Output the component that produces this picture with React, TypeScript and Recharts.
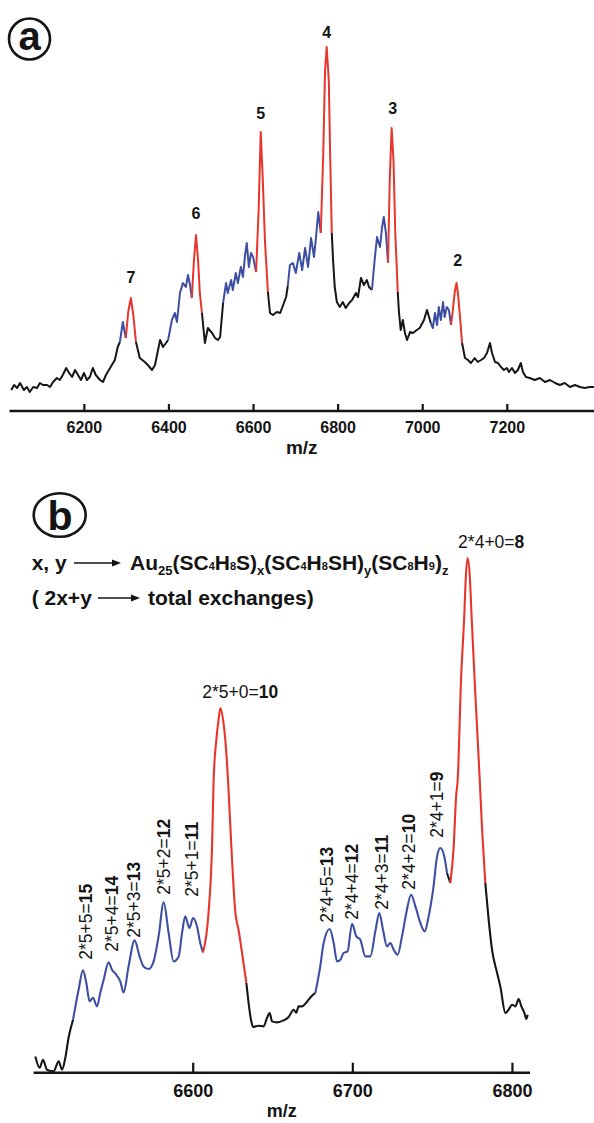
import React from 'react';
import { LineChart, Line, XAxis, YAxis, ReferenceDot, Label } from 'recharts';

const FONT = '"Liberation Sans", Arial, Helvetica, sans-serif';
const INK = '#141414';
const COLORS: Record<string, string> = { k: '#161616', b: '#3d4fa3', r: '#e8352b' };

// ---------- Panel (a): full spectrum ----------
const mzA = [
  6027, 6034, 6041, 6048, 6057, 6064, 6071, 6079, 6088, 6095, 6102, 6112, 6119, 6126, 6135, 6142, 6149, 6157, 6164, 6171,
  6178, 6185, 6192, 6199, 6206, 6213, 6220, 6227, 6237, 6244, 6251, 6258, 6265, 6272, 6279, 6284, 6291, 6298, 6304, 6310,
  6316, 6322, 6331, 6343, 6350, 6360, 6367, 6379, 6386, 6393, 6398, 6407, 6414, 6419, 6426, 6433, 6440, 6445, 6450, 6454,
  6459, 6464, 6469, 6473, 6478, 6485, 6492, 6502, 6509, 6516, 6521, 6528, 6535, 6539, 6547, 6551, 6558, 6563, 6570, 6575,
  6580, 6584, 6589, 6594, 6599, 6606, 6612, 6617, 6622, 6627, 6634, 6639, 6646, 6655, 6663, 6670, 6677, 6681, 6686, 6693,
  6700, 6708, 6715, 6722, 6729, 6736, 6743, 6748, 6753, 6759, 6765, 6769, 6773, 6778, 6781, 6785, 6788, 6792, 6797, 6804,
  6811, 6818, 6826, 6833, 6842, 6847, 6854, 6861, 6868, 6873, 6880, 6887, 6892, 6899, 6904, 6908, 6913, 6918, 6922, 6926.5,
  6931, 6935, 6941, 6944, 6948, 6953, 6958, 6963, 6970, 6977, 6986, 6993, 7003, 7010, 7015, 7019, 7024, 7029, 7034, 7038,
  7043, 7048, 7052, 7057, 7062, 7067, 7071, 7076, 7080, 7084, 7089, 7093, 7100, 7107, 7114, 7123, 7130, 7138, 7145, 7152,
  7159, 7164, 7171, 7178, 7185, 7192, 7199, 7204, 7211, 7218, 7225, 7232, 7237, 7244, 7253, 7265, 7277, 7289, 7301, 7313,
  7324, 7336, 7348, 7360, 7372, 7383, 7395, 7405,
];
const intA = [
  21, 26, 23, 28, 21, 24, 19, 24, 23, 28, 26, 26, 24, 29, 33, 31, 36, 43, 38, 34,
  41, 36, 31, 38, 31, 34, 43, 36, 31, 29, 36, 41, 46, 51, 64, 69, 89, 73, 100, 113,
  95, 69, 53, 49, 46, 41, 46, 71, 64, 68, 71, 91, 98, 89, 118, 128, 124, 136, 126, 113,
  150, 176, 150, 118, 98, 68, 83, 78, 73, 71, 74, 108, 128, 118, 131, 121, 138, 128, 144, 134,
  156, 168, 144, 158, 154, 139, 200, 279, 230, 170, 119, 98, 96, 99, 98, 106, 114, 125, 146, 148,
  138, 158, 141, 163, 144, 173, 154, 175, 199, 178, 260, 340, 364, 330, 260, 178, 151, 124, 109, 104,
  109, 103, 108, 111, 118, 114, 133, 126, 131, 124, 121, 154, 174, 164, 184, 194, 178, 148, 230, 283,
  250, 180, 119, 98, 81, 91, 78, 71, 79, 78, 81, 83, 91, 101, 94, 88, 83, 98, 86, 104,
  91, 109, 94, 104, 101, 86, 100, 120, 128, 115, 90, 68, 53, 51, 48, 53, 49, 51, 53, 58,
  68, 58, 49, 48, 44, 41, 43, 39, 43, 38, 41, 48, 39, 34, 33, 31, 33, 29, 31, 28,
  26, 28, 24, 26, 24, 23, 24, 24,
];
const bandStartA = [6027, 6284, 6298, 6322, 6398, 6454, 6478, 6528, 6606, 6634, 6681, 6759, 6785, 6880, 6918, 6941, 7019, 7067, 7093];
const bandColorA = ['k', 'b', 'r', 'k', 'b', 'r', 'k', 'b', 'r', 'k', 'b', 'r', 'k', 'b', 'r', 'k', 'b', 'r', 'k'];
const ticksA = [6200, 6400, 6600, 6800, 7000, 7200];
const peakTextA = ['7', '6', '5', '4', '3', '2'];
const peakMzA = [6310, 6464, 6617, 6773, 6929, 7083];
const peakIntA = [134, 198, 298, 379, 303, 151];

// ---------- Panel (b): zoomed spectrum ----------
const mzB = [
  6501.1, 6503.8, 6505.9, 6508.4, 6512.5, 6515.7, 6517.8, 6519.9, 6521.9, 6524.7, 6528.2, 6530.9, 6533, 6535.1, 6537.2, 6539.7,
  6541.8, 6543.9, 6547, 6549.1, 6551.8, 6554.3, 6556.4, 6559.5, 6563.3, 6566.4, 6568.9, 6572.1, 6575.2, 6578.3, 6581.5, 6584.6,
  6587.7, 6590.9, 6593, 6595, 6597.6, 6599.9, 6602.4, 6604.4, 6606.1, 6609.6, 6611.8, 6612.8, 6614.5, 6615.9, 6617, 6618.7,
  6620.1, 6621.8, 6623.9, 6626.4, 6628.4, 6630.6, 6633.3, 6636.2, 6637.5, 6641, 6644.1, 6646.2, 6647.9, 6649.4, 6652.5, 6656.6,
  6659.8, 6662.9, 6664.6, 6666, 6668.2, 6670.2, 6672.3, 6674.4, 6676.5, 6679.6, 6681.7, 6685.5, 6688, 6690.1, 6692.2, 6694.2,
  6696.7, 6699.5, 6702.2, 6704.7, 6707.8, 6711, 6714.1, 6716.6, 6718.9, 6721.4, 6723.5, 6725.6, 6728.1, 6730.8, 6733.5, 6736.5,
  6739.2, 6742.3, 6745, 6747.5, 6750.3, 6752.8, 6754.8, 6757.3, 6759, 6761.1, 6763.2, 6764.7, 6765.7, 6767.8, 6769.9, 6770.7,
  6771.9, 6773.4, 6774.3, 6776.3, 6779.5, 6781, 6783, 6785.1, 6787.2, 6790.4, 6792.4, 6795.6, 6797.6, 6799.8, 6801.8, 6803.9,
  6805.6, 6807.5, 6808.7, 6809.5,
];
const intB = [
  16.3, 5, 13, 3, 1.3, 11.3, 3, 15, 35, 53, 83, 102.3, 90, 71.3, 75, 66.3,
  80, 93, 110.3, 103, 98, 91.3, 80.3, 106.3, 132.3, 116.3, 106.3, 103.7, 111.3, 136.3, 170.3, 139.7,
  111.3, 116.3, 139.7, 156.3, 144.7, 154.7, 146.3, 129.7, 120.3, 160, 226.3, 293, 333, 353, 364.7, 353,
  333, 293, 226, 160, 143, 119.7, 89.7, 53, 45.7, 47, 46.3, 54.7, 59.7, 51.3, 50.3, 52.3,
  55.7, 63, 60, 66.3, 66.3, 69, 73, 77, 79.7, 106.3, 129.7, 143.7, 129.7, 111.3, 113, 119.7,
  121.3, 149, 136.3, 133, 116.3, 116.3, 141.3, 159.7, 143, 126.3, 129.7, 123, 118, 136.3, 159.7, 178,
  166.3, 149.7, 141.3, 156.3, 183, 216.3, 224.7, 216.3, 199.7, 189.7, 226.3, 276.3, 293, 393, 460, 493,
  514.7, 493, 460, 393, 293, 243, 189.7, 153, 123, 99.7, 86.3, 59.7, 63, 68, 66.3, 73.7,
  66.3, 59.7, 53.7, 58,
];
const bandStartB = [6501.1, 6524.7, 6606.1, 6633.3, 6676.5, 6759, 6761.1, 6783];
const bandColorB = ['k', 'b', 'r', 'k', 'b', 'k', 'r', 'k'];
const ticksB = [6600, 6700, 6800];

// rotated assignment labels: plain part, bold part, anchor (m/z, intensity at text start)
const sidePlainB = ['2*5+5=', '2*5+4=', '2*5+3=', '2*5+2=', '2*5+1=', '2*4+5=', '2*4+4=', '2*4+3=', '2*4+2=', '2*4+1='];
const sideBoldB = ['15', '14', '13', '12', '11', '13', '12', '11', '10', '9'];
const sideMzB = [6533, 6549.3, 6563.1, 6581.9, 6599.4, 6684, 6699.7, 6718.5, 6735.4, 6753];
const sideIntB = [113, 121, 135, 178, 176, 150, 153, 163, 183, 235];
// horizontal labels over the main peaks
const topPlainB = ['2*5+0=', '2*4+0='];
const topBoldB = ['10', '8'];
const topMzB = [6629.5, 6786.7];
const topIntB = [381, 531];

type Row = { mz: number; k: number | null; b: number | null; r: number | null };

function buildRows(mz: number[], inten: number[], starts: number[], colors: string[]): Row[] {
  return mz.map((m, i) => {
    const row: any = { mz: m, k: null, b: null, r: null };
    let s = 0;
    for (let j = 0; j < starts.length; j++) if (m >= starts[j]) s = j;
    row[colors[s]] = inten[i];
    if (m === starts[s] && s > 0) row[colors[s - 1]] = inten[i];
    return row as Row;
  });
}

const rowsA = buildRows(mzA, intA, bandStartA, bandColorA);
const rowsB = buildRows(mzB, intB, bandStartB, bandColorB);

const makeTick = (fontSize: number, tickLen: number, labelDy: number) => (p: any) => {
  const { x, y, payload } = p;
  return (
    <g>
      <line x1={x} x2={x} y1={y} y2={y - tickLen} stroke={INK} strokeWidth={2.2} />
      <text x={x} y={y + labelDy} textAnchor="middle" dominantBaseline="central" fontFamily={FONT}
        fontWeight="bold" fontSize={fontSize} fill={INK}>{payload.value}</text>
    </g>
  );
};

const seriesKeys = ['k', 'b', 'r'];

function PanelA() {
  return (
    <LineChart width={594} height={460} data={rowsA} margin={{ top: 11, right: 0, left: 9.5, bottom: 0 }}>
      <XAxis dataKey="mz" type="number" domain={[6023, 7405]} ticks={ticksA} interval={0} allowDataOverflow
        height={49} axisLine={{ stroke: INK, strokeWidth: 2.5 }} tickLine={false} tickSize={0} tickMargin={0}
        tick={makeTick(16, 7, 16)}>
        <Label value="m/z" position="insideBottom" offset={6}
          style={{ fontSize: 19, fontWeight: 'bold', fill: INK, fontFamily: FONT }} />
      </XAxis>
      <YAxis hide type="number" domain={[0, 400]} allowDataOverflow />
      {seriesKeys.map((k) => (
        <Line key={k} dataKey={k} type="linear" stroke={COLORS[k]} strokeWidth={2} dot={false} activeDot={false}
          connectNulls={false} isAnimationActive={false} strokeLinejoin="round" />
      ))}
      {peakTextA.map((t, i) => (
        <ReferenceDot key={t} x={peakMzA[i]} y={peakIntA[i]} ifOverflow="visible"
          shape={(p: any) => (
            <text x={p.cx} y={p.cy} textAnchor="middle" dominantBaseline="central" fontFamily={FONT}
              fontWeight="bold" fontSize={16} fill={INK}>{t}</text>
          )} />
      ))}
    </LineChart>
  );
}

function PanelB() {
  return (
    <LineChart width={594} height={653} data={rowsB} margin={{ top: 42.7, right: 64, left: 33.6, bottom: 0 }}>
      <XAxis dataKey="mz" type="number" domain={[6500, 6811]} ticks={ticksB} interval={0} allowDataOverflow
        height={50.3} axisLine={{ stroke: INK, strokeWidth: 2.5 }} tickLine={false} tickSize={0} tickMargin={0}
        tick={makeTick(18, 10, 18)}>
        <Label value="m/z" position="insideBottom" offset={6}
          style={{ fontSize: 18, fontWeight: 'bold', fill: INK, fontFamily: FONT }} />
      </XAxis>
      <YAxis hide type="number" domain={[0, 560]} allowDataOverflow />
      {seriesKeys.map((k) => (
        <Line key={k} dataKey={k} type="monotone" stroke={COLORS[k]} strokeWidth={2.1} dot={false} activeDot={false}
          connectNulls={false} isAnimationActive={false} strokeLinejoin="round" />
      ))}
      {sidePlainB.map((t, i) => (
        <ReferenceDot key={'s' + i} x={sideMzB[i]} y={sideIntB[i]} ifOverflow="visible"
          shape={(p: any) => (
            <text x={p.cx} y={p.cy} transform={`rotate(-90 ${p.cx} ${p.cy})`} textAnchor="start"
              dominantBaseline="central" fontFamily={FONT} fontSize={17.5} fill={INK}>
              {t}<tspan fontWeight="bold">{sideBoldB[i]}</tspan>
            </text>
          )} />
      ))}
      {topPlainB.map((t, i) => (
        <ReferenceDot key={'t' + i} x={topMzB[i]} y={topIntB[i]} ifOverflow="visible"
          shape={(p: any) => (
            <text x={p.cx} y={p.cy} textAnchor="middle" dominantBaseline="central" fontFamily={FONT}
              fontSize={17.5} fill={INK}>
              {t}<tspan fontWeight="bold">{topBoldB[i]}</tspan>
            </text>
          )} />
      ))}
    </LineChart>
  );
}

function Arrow({ x1, x2, y }: { x1: number; x2: number; y: number }) {
  return (
    <g>
      <line x1={x1} x2={x2 - 6} y1={y} y2={y} stroke={INK} strokeWidth={1.3} />
      <polygon points={`${x2 - 9},${y - 3.5} ${x2},${y} ${x2 - 9},${y + 3.5}`} fill={INK} />
    </g>
  );
}

function Overlay() {
  const big = { fontFamily: FONT, fontWeight: 'bold' as const, fill: INK };
  return (
    <svg width={594} height={1123} style={{ position: 'absolute', left: 0, top: 0, pointerEvents: 'none' }}>
      <circle cx={29.5} cy={39} r={20.5} fill="none" stroke={INK} strokeWidth={2.6} />
      <text x={29.5} y={50} textAnchor="middle" fontSize={40} {...big}>a</text>
      <ellipse cx={59.7} cy={515} rx={26} ry={21.8} fill="none" stroke={INK} strokeWidth={2.6} />
      <text x={60} y={530} textAnchor="middle" fontSize={41} {...big}>b</text>

      <text x={31.7} y={570} fontSize={21} {...big}>x, y</text>
      <Arrow x1={74} x2={121} y={563} />
      <text x={130} y={570} fontSize={21} {...big}>
        Au<tspan fontSize={13} dy={5}>25</tspan><tspan dy={-5}>(SC</tspan><tspan fontSize={11}>4</tspan>H<tspan fontSize={11}>8</tspan>S)<tspan fontSize={13} dy={5}>x</tspan><tspan dy={-5}>(SC</tspan><tspan fontSize={11}>4</tspan>H<tspan fontSize={11}>8</tspan>SH)<tspan fontSize={13} dy={5}>y</tspan><tspan dy={-5}>(SC</tspan><tspan fontSize={11}>8</tspan>H<tspan fontSize={11}>9</tspan>)<tspan fontSize={13} dy={5}>z</tspan>
      </text>
      <text x={31.7} y={605} fontSize={21} {...big}>( 2x+y</text>
      <Arrow x1={98} x2={140} y={598} />
      <text x={148} y={605} fontSize={21} {...big}>total exchanges)</text>
    </svg>
  );
}

export default function App() {
  return (
    <div style={{ position: 'absolute', left: 0, top: 0, width: 594, height: 1123, background: '#fff', overflow: 'hidden' }}>
      <div style={{ position: 'absolute', left: 0, top: 0 }}>
        <PanelA />
      </div>
      <div style={{ position: 'absolute', left: 0, top: 470 }}>
        <PanelB />
      </div>
      <Overlay />
    </div>
  );
}
